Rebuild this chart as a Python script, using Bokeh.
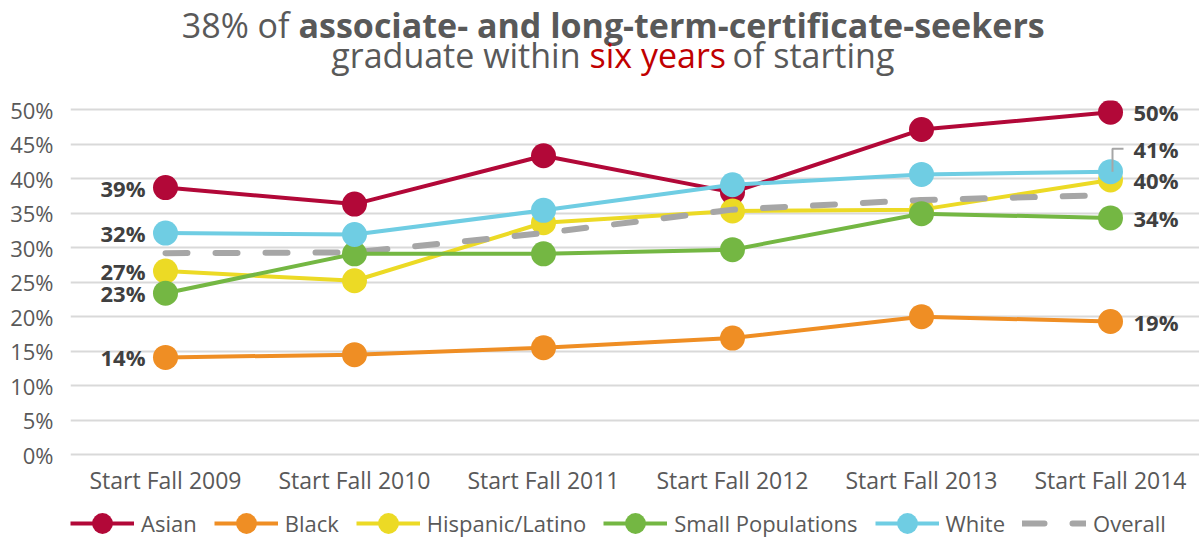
from bokeh.plotting import figure
from bokeh.layouts import column
from bokeh.models import (Range1d, FixedTicker, PrintfTickFormatter, Label,
                          Legend, LegendItem, ColumnDataSource)
from bokeh.core.properties import value
from bokeh.embed import file_html
from bokeh.resources import INLINE

# ---- data -------------------------------------------------------------
categories = ["Start Fall 2009", "Start Fall 2010", "Start Fall 2011",
              "Start Fall 2012", "Start Fall 2013", "Start Fall 2014"]
asian = [38.7, 36.3, 43.3, 38.0, 47.1, 49.6]
black = [14.1, 14.5, 15.5, 16.9, 20.0, 19.3]
hispanic = [26.6, 25.2, 33.6, 35.3, 35.5, 39.8]
small_pop = [23.4, 29.1, 29.1, 29.7, 34.9, 34.3]
white = [32.1, 31.9, 35.4, 39.1, 40.6, 41.0]
overall = [29.2, 29.3, 32.1, 35.5, 36.9, 37.6]
y_ticks = [0, 5, 10, 15, 20, 25, 30, 35, 40, 45, 50]

# ---- styling ----------------------------------------------------------
FONT = "Open Sans"
TEXT_GREY = "#595959"
LABEL_DARK = "#404040"
TITLE_RED = "#C00000"
COLORS = {
    "Asian": "#B20838",
    "Black": "#EF8E24",
    "Hispanic/Latino": "#ECDA25",
    "Small Populations": "#74B743",
    "White": "#6FCDE3",
    "Overall": "#A6A6A6",
}

# page geometry (pixels from the top-left of the page)
W = 1199
TITLE_H = 92            # title strip
MAIN_H = 410            # chart with its axes
LEGEND_H = 35           # legend strip
FRAME_L, FRAME_R, FRAME_T, FRAME_B = 70, 1199, 100, 460
STEP_PX = 189.0          # pixels between categories
FIRST_PX = 165.0         # pixel position of the first category
ZERO_PX = 454.3          # pixel row of 0%
PX_PER_PCT = 6.906


def dx(px):
    return (px - FIRST_PX) / STEP_PX


def dy(py):
    return (ZERO_PX - py) / PX_PER_PCT


def bare_figure(height, x_range, y_range):
    f = figure(width=W, height=height, output_backend="svg", toolbar_location=None,
               x_range=x_range, y_range=y_range,
               x_axis_location=None, y_axis_location=None, min_border=0,
               background_fill_color="white", border_fill_color="white")
    f.outline_line_color = None
    f.grid.visible = False
    return f


# ---- title strip ------------------------------------------------------
# the column lines up every frame with the chart's, so x runs in page pixels
t = bare_figure(TITLE_H, Range1d(FRAME_L, FRAME_R), Range1d(TITLE_H, 0))


def title_piece(text, px, py, align, bold=False, color=TEXT_GREY):
    t.add_layout(Label(x=px, y=py, text=text, text_align=align,
                       text_baseline="alphabetic", text_font=FONT,
                       text_font_size="34px",
                       text_font_style="bold" if bold else "normal",
                       text_color=color))


title_piece("38% of", 289, 24, "right")
title_piece("associate- and long-term-certificate-seekers", 298, 24, "left", bold=True)
title_piece("graduate within", 580, 54, "right")
title_piece("six years", 589, 54, "left", color=TITLE_RED)
title_piece("of starting", 732, 54, "left")

# ---- chart ------------------------------------------------------------
x_idx = list(range(len(categories)))
source = ColumnDataSource(dict(x=x_idx, asian=asian, black=black, hispanic=hispanic,
                               small_pop=small_pop, white=white, overall=overall))

p = figure(width=W, height=MAIN_H, output_backend="svg", toolbar_location=None,
           x_range=Range1d(dx(FRAME_L), dx(FRAME_R)),
           y_range=Range1d(dy(FRAME_B), dy(FRAME_T)),
           min_border_left=FRAME_L, min_border_right=W - FRAME_R,
           min_border_top=FRAME_T - TITLE_H,
           min_border_bottom=TITLE_H + MAIN_H - FRAME_B,
           background_fill_color="white", border_fill_color="white")
p.outline_line_color = None

p.yaxis.ticker = FixedTicker(ticks=y_ticks)
p.yaxis.formatter = PrintfTickFormatter(format="%d%%")
p.xaxis.ticker = FixedTicker(ticks=x_idx)
p.xaxis.major_label_overrides = {i: c for i, c in enumerate(categories)}
for ax in (p.xaxis, p.yaxis):
    ax.axis_line_color = None
    ax.major_tick_line_color = None
    ax.minor_tick_line_color = None
    ax.major_tick_out = 0
    ax.major_tick_in = 0
    ax.major_label_text_font = FONT
    ax.major_label_text_color = TEXT_GREY
p.yaxis.major_label_text_font_size = "22px"
p.yaxis.major_label_standoff = 17
p.xaxis.major_label_text_font_size = "23px"
p.xaxis.major_label_standoff = 3
p.xgrid.visible = False
p.ygrid.grid_line_color = "#D9D9D9"
p.ygrid.grid_line_width = 2


def line_style(name):
    if name == "Overall":
        return dict(line_color=COLORS[name], line_width=6, line_dash="22 28",
                    line_cap="round")
    return dict(line_color=COLORS[name], line_width=4)


def dot_style(name):
    return dict(size=25, fill_color=COLORS[name], line_color=None)


# series, drawn bottom to top
draw_order = [("Asian", "asian"), ("Black", "black"), ("Hispanic/Latino", "hispanic"),
              ("Overall", "overall"), ("Small Populations", "small_pop"),
              ("White", "white")]
for name, col in draw_order:
    p.line("x", col, source=source, **line_style(name))
    if name != "Overall":
        p.scatter("x", col, source=source, **dot_style(name))


def pct(v):
    return f"{v:.0f}%"


label_style = dict(text_baseline="middle", text_font=value(FONT),
                   text_font_style="bold", text_font_size="22px",
                   text_color=LABEL_DARK)

left_vals = [asian[0], white[0], hispanic[0], small_pop[0], black[0]]
left_src = ColumnDataSource(dict(x=[x_idx[0]] * len(left_vals), y=left_vals,
                                 t=[pct(v) for v in left_vals]))
p.text("x", "y", text="t", source=left_src, x_offset=-20, text_align="right",
       **label_style)

right_vals = [asian[-1], hispanic[-1], small_pop[-1], black[-1]]
right_src = ColumnDataSource(dict(x=[x_idx[-1]] * len(right_vals), y=right_vals,
                                  t=[pct(v) for v in right_vals]))
p.text("x", "y", text="t", source=right_src, x_offset=23, text_align="left",
       **label_style)

# White's last label is lifted and joined to its dot by a small leader
lift = 23 / PX_PER_PCT
xl = x_idx[-1]
p.line([xl + 2 / STEP_PX, xl + 2 / STEP_PX, xl + 13 / STEP_PX],
       [white[-1], white[-1] + lift, white[-1] + lift],
       line_color=COLORS["Overall"], line_width=2)
p.text([xl], [white[-1]], text=[pct(white[-1])], x_offset=23, y_offset=-23,
       text_align="left", **label_style)

# ---- legend strip -----------------------------------------------------
# legend swatches come from renderers that carry no visible point
lg = bare_figure(LEGEND_H, Range1d(0, 1), Range1d(0, 1))
nan = float("nan")
items = []
for name in ["Asian", "Black", "Hispanic/Latino", "Small Populations", "White", "Overall"]:
    rs = [lg.line([nan], [nan], **line_style(name))]
    if name != "Overall":
        rs.append(lg.scatter([nan], [nan], **dot_style(name)))
    items.append(LegendItem(label=name, renderers=rs))

legend = Legend(items=items, orientation="horizontal", location=(0, -12),
                glyph_width=64, glyph_height=52, label_standoff=7, spacing=17,
                padding=0, margin=0, border_line_color=None,
                background_fill_alpha=0, label_text_font=FONT,
                label_text_font_size="22px", label_text_color=TEXT_GREY)
lg.add_layout(legend)

page = column(t, p, lg, spacing=0)
open("out.html", "w").write(file_html(page, INLINE))
